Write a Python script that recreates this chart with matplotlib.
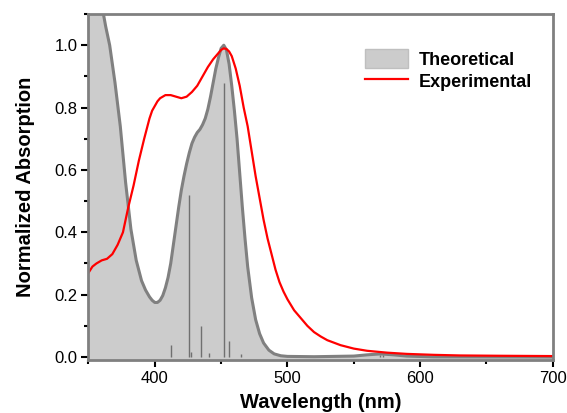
import matplotlib
matplotlib.use("Agg")
import matplotlib.pyplot as plt
from matplotlib.patches import Patch
from matplotlib.lines import Line2D
from matplotlib.ticker import MultipleLocator

plt.rcParams['font.family'] = ['Liberation Sans', 'DejaVu Sans']

# theoretical (TD-DFT broadened) spectrum
theo_wl = [350, 355, 360, 363, 366, 370, 374, 378, 382, 386, 390, 393, 396, 398,
           400, 402, 404, 406, 408, 410, 412, 414, 416, 418, 420, 422, 424, 426,
           428, 430, 432, 434, 436, 438, 440, 442, 444, 446, 448, 450, 452, 454,
           456, 458, 460, 462, 464, 466, 468, 470, 473, 476, 479, 482, 486, 490,
           495, 500, 520, 550, 560, 570, 580, 590, 610, 700]
theo_abs = [1.45, 1.30, 1.13, 1.06, 1.0, 0.88, 0.74, 0.56, 0.41, 0.31, 0.245,
            0.215, 0.193, 0.182, 0.175, 0.175, 0.182, 0.197, 0.222, 0.255, 0.30,
            0.36, 0.42, 0.48, 0.535, 0.58, 0.62, 0.655, 0.685, 0.705, 0.72, 0.73,
            0.745, 0.765, 0.795, 0.835, 0.88, 0.925, 0.96, 0.99, 1.0, 0.985,
            0.94, 0.87, 0.79, 0.70, 0.59, 0.48, 0.38, 0.29, 0.19, 0.12, 0.075,
            0.045, 0.022, 0.01, 0.004, 0.002, 0.001, 0.003, 0.007, 0.01, 0.007,
            0.003, 0.0005, 0.0]

# oscillator strengths (sticks)
stick_wl = [412.5, 426, 427, 435, 441, 452.4, 456, 465, 570, 572]
stick_f = [0.04, 0.52, 0.017, 0.10, 0.013, 0.88, 0.05, 0.01, 0.006, 0.006]

# experimental spectrum
exp_wl = [350, 353, 356, 360, 364, 368, 372, 376, 380, 384, 388, 392, 396, 398,
          400, 402, 404, 408, 412, 416, 420, 424, 428, 432, 436, 440, 444, 448,
          450, 452, 454, 456, 458, 461, 464, 467, 470, 473, 476, 479, 482, 485,
          488, 491, 494, 497, 500, 505, 510, 515, 520, 525, 530, 540, 550, 560,
          575, 590, 610, 630, 660, 700]
exp_abs = [0.27, 0.29, 0.30, 0.31, 0.315, 0.33, 0.36, 0.40, 0.48, 0.55, 0.63,
           0.70, 0.765, 0.79, 0.805, 0.82, 0.83, 0.84, 0.84, 0.835, 0.83, 0.835,
           0.85, 0.87, 0.90, 0.93, 0.955, 0.975, 0.985, 0.99, 0.988, 0.98, 0.965,
           0.925, 0.87, 0.80, 0.74, 0.66, 0.58, 0.51, 0.44, 0.38, 0.33, 0.28,
           0.24, 0.21, 0.185, 0.15, 0.125, 0.10, 0.08, 0.066, 0.054, 0.038,
           0.027, 0.02, 0.014, 0.01, 0.007, 0.005, 0.004, 0.003]

fig = plt.figure(figsize=(5.67, 4.13), dpi=100)
ax = fig.add_axes([0.156, 0.128, 0.819, 0.838])

ax.fill_between(theo_wl, theo_abs, -0.01, color='#cccccc', lw=0)
ax.plot(theo_wl, theo_abs, color='#808080', lw=2.2)
ax.vlines(stick_wl, 0, stick_f, color='#707070', lw=1)
ax.plot(exp_wl, exp_abs, color='#ff0000', lw=1.6)

ax.set_xlim(350, 700)
ax.set_ylim(-0.01, 1.1)
ax.xaxis.set_major_locator(MultipleLocator(100))
ax.xaxis.set_minor_locator(MultipleLocator(50))
ax.yaxis.set_major_locator(MultipleLocator(0.2))
ax.yaxis.set_minor_locator(MultipleLocator(0.1))
ax.yaxis.set_major_formatter(matplotlib.ticker.FormatStrFormatter('%.1f'))
ax.tick_params(which='major', direction='out', length=5, width=1.5, labelsize=12, pad=3)
ax.tick_params(which='minor', direction='out', length=3, width=1.5)
for s in ax.spines.values():
    s.set_color('#808080')
    s.set_linewidth(2)

ax.set_xlabel('Wavelength (nm)', fontsize=14.5, fontweight='bold', labelpad=5)
ax.set_ylabel('Normalized Absorption', fontsize=14.5, fontweight='bold', labelpad=14)

handles = [Patch(facecolor='#cccccc', edgecolor='#bfbfbf'),
           Line2D([0], [0], color='#ff0000', lw=1.6)]
ax.legend(handles, ['Theoretical', 'Experimental'], loc='upper left',
          bbox_to_anchor=(0.56, 0.945), frameon=False,
          prop={'size': 13, 'weight': 'bold'}, handlelength=2.4,
          handleheight=1.2, handletextpad=0.6, labelspacing=0.15)

fig.savefig('out.png', dpi=100)
